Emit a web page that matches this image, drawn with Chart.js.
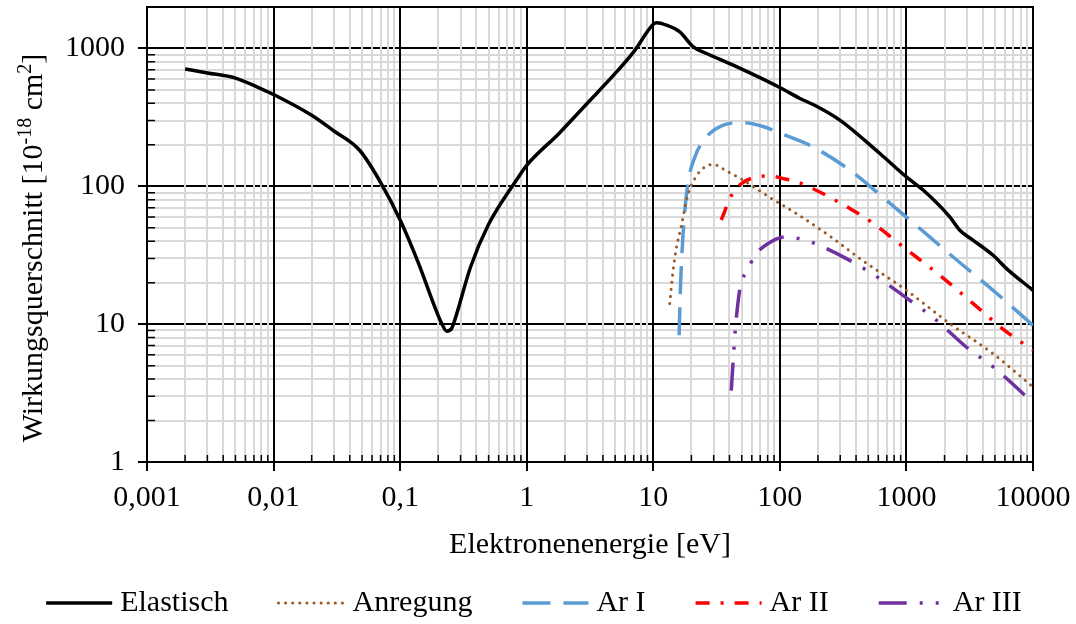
<!DOCTYPE html>
<html>
<head>
<meta charset="utf-8">
<script src="https://cdn.jsdelivr.net/npm/chart.js@4.4.1/dist/chart.umd.min.js"></script>
<style>
  html, body { margin: 0; padding: 0; background: #fff; }
</style>
</head>
<body>
<canvas id="canvas" width="1076" height="624"></canvas>
<script>
"use strict";

// electron energy [eV] and cross section [1e-18 cm^2]
const elasticE = [0.002, 0.003, 0.005, 0.008, 0.01, 0.02, 0.03, 0.048, 0.07, 0.1, 0.14, 0.188, 0.213, 0.233, 0.255, 0.27, 0.36, 0.5, 0.83, 1, 1.8, 3, 5, 7, 10, 10.6, 12.7, 16.2, 20.7, 26.4, 42.8, 100, 144, 195, 298, 617, 1000, 1355, 2200, 2640, 3370, 4840, 6180, 10000];
const elasticQ = [710, 665, 610, 510, 464, 328, 252, 182, 107, 57, 27.5, 13.3, 10.1, 8.9, 9.3, 10.7, 26, 53, 111, 142, 242, 399, 659, 945, 1500, 1540, 1480, 1320, 1027, 920, 757, 521, 434, 381, 302, 173, 117, 94, 60, 48, 40.6, 31.6, 25.3, 17.6];

const excitE = [13.5, 14.3, 15.2, 16.7, 18.6, 21.3, 25.5, 29.9, 37.9, 49.6, 63.1, 90.9, 135, 264, 429, 1000, 2200, 4840, 10000];
const excitQ = [14.1, 23.9, 35.4, 52, 84, 114, 138, 144, 129, 113, 98, 79, 63.5, 41.8, 29.9, 17.6, 10.1, 6.1, 3.5];

const ar1E = [16.0, 16.4, 17.2, 18.6, 21.3, 26.3, 35.4, 50.7, 72.5, 110, 183, 357, 697, 1064, 2340, 4840, 10000];
const ar1Q = [8.3, 18.6, 45.4, 99, 163, 228, 277, 290, 273, 235, 193, 131, 79, 57, 30.7, 17.6, 9.8];

const ar2E = [34.4, 41.8, 50.7, 63.1, 83, 110, 135, 183, 368, 546, 697, 980, 1840, 3370, 6180, 10000];
const ar2Q = [57, 87, 106, 116, 119, 113, 108, 96, 68, 54, 45.4, 35.4, 22.6, 14.1, 8.8, 6.5];

const ar3E = [41.3, 42.8, 44.4, 48.6, 55.3, 62.4, 80.8, 110, 160, 211, 336, 546, 697, 1064, 1680, 2985, 4840, 10000];
const ar3Q = [3.3, 5.5, 9.0, 18.6, 24.2, 30.7, 38.5, 43, 40.6, 36.9, 29.9, 23, 19.7, 14.9, 10.9, 6.8, 4.9, 2.7];

const seriesNames = ['Elastisch', 'Anregung', 'Ar I', 'Ar II', 'Ar III'];

const xTickValues = [0.001, 0.01, 0.1, 1, 10, 100, 1000, 10000];
const xTickLabels = ['0,001', '0,01', '0,1', '1', '10', '100', '1000', '10000'];
const yTickValues = [1, 10, 100, 1000];
const yTickLabels = ['1', '10', '100', '1000'];

const xTitle = 'Elektronenenergie [eV]';
// [text, superscript?]
const yTitleParts = [['Wirkungsquerschnitt [10', false], ['-18', true], [' cm', false], ['2', true], [']', false]];

const FONT = '"Liberation Serif", "Times New Roman", serif';

function pairs(xs, ys) {
  return xs.map(function(x, i) { return { x: x, y: ys[i] }; });
}

function isDecade(v) {
  const l = Math.log10(v);
  return Math.abs(l - Math.round(l)) < 1e-6;
}

function labelFor(values, labels) {
  return function(v) {
    for (let i = 0; i < values.length; i++) {
      if (Math.abs(v / values[i] - 1) < 1e-6) return labels[i];
    }
    return '';
  };
}

// drop the 1.5 x 10^n ticks chart.js adds, keep 1..9 per decade
function wholeSteps(scale) {
  scale.ticks = scale.ticks.filter(function(t) {
    const m = t.value / Math.pow(10, Math.floor(Math.log10(t.value) + 1e-9));
    return Math.abs(m - Math.round(m)) < 1e-6;
  });
}

function gridFor(z) {
  return {
    z: z,
    color: function(c) { return c.tick && isDecade(c.tick.value) ? '#000' : '#d9d9d9'; },
    lineWidth: 2,
    tickColor: function(c) { return c.tick && isDecade(c.tick.value) ? '#000' : 'rgba(0,0,0,0)'; },
    tickLength: 9,
    tickWidth: 2
  };
}

const framePlugin = {
  id: 'frame',
  beforeDatasetsDraw: function(chart) {
    const ctx = chart.ctx, a = chart.chartArea;
    ctx.save();
    ctx.strokeStyle = '#000';
    ctx.lineWidth = 2;
    ctx.strokeRect(a.left, a.top, a.right - a.left, a.bottom - a.top);
    // short minor ticks pointing into the plot
    ctx.lineWidth = 1.5;
    ctx.beginPath();
    chart.scales.x.ticks.forEach(function(t) {
      if (isDecade(t.value)) return;
      const px = chart.scales.x.getPixelForValue(t.value);
      ctx.moveTo(px, a.bottom);
      ctx.lineTo(px, a.bottom - 7);
    });
    chart.scales.y.ticks.forEach(function(t) {
      if (isDecade(t.value)) return;
      const py = chart.scales.y.getPixelForValue(t.value);
      ctx.moveTo(a.left, py);
      ctx.lineTo(a.left + 8, py);
    });
    ctx.stroke();
    ctx.restore();
  },
  afterDraw: function(chart) {
    const ctx = chart.ctx;
    ctx.save();
    ctx.fillStyle = '#000';

    // y axis title with superscripts
    const big = '30px ' + FONT, small = '20px ' + FONT;
    let total = 0;
    yTitleParts.forEach(function(p) {
      ctx.font = p[1] ? small : big;
      total += ctx.measureText(p[0]).width;
    });
    ctx.translate(32, 248);
    ctx.rotate(-Math.PI / 2);
    ctx.textBaseline = 'alphabetic';
    let x = -total / 2;
    yTitleParts.forEach(function(p) {
      ctx.font = p[1] ? small : big;
      ctx.fillText(p[0], x, p[1] ? -1 : 10);
      x += ctx.measureText(p[0]).width;
    });
    ctx.setTransform(1, 0, 0, 1, 0, 0);

    // legend below the axis title
    const lineLen = 66, gapText = 8, gapItem = 50, ly = 603;
    ctx.font = big;
    const ds = chart.data.datasets;
    let width = 0;
    ds.forEach(function(d) { width += lineLen + gapText + ctx.measureText(d.label).width; });
    width += gapItem * (ds.length - 1);
    let lx = chart.width / 2 - 4 - width / 2;
    ds.forEach(function(d) {
      ctx.save();
      ctx.strokeStyle = d.borderColor;
      ctx.lineWidth = d.borderWidth;
      ctx.lineCap = d.borderCapStyle || 'butt';
      ctx.setLineDash(d.borderDash || []);
      ctx.beginPath();
      ctx.moveTo(lx, ly);
      ctx.lineTo(lx + lineLen, ly);
      ctx.stroke();
      ctx.restore();
      ctx.textBaseline = 'middle';
      ctx.fillText(d.label, lx + lineLen + gapText, ly);
      lx += lineLen + gapText + ctx.measureText(d.label).width + gapItem;
    });
    ctx.restore();
  }
};

const ctx = document.getElementById('canvas');

new Chart(ctx, {
  type: 'line',
  data: {
    datasets: [
      {
        label: seriesNames[0],
        data: pairs(elasticE, elasticQ),
        borderColor: '#000000',
        borderWidth: 3.5,
        borderDash: []
      },
      {
        label: seriesNames[1],
        data: pairs(excitE, excitQ),
        borderColor: '#9C5A26',
        borderWidth: 3,
        borderDash: [0.1, 7],
        borderCapStyle: 'round'
      },
      {
        label: seriesNames[2],
        data: pairs(ar1E, ar1Q),
        borderColor: '#5B9BD5',
        borderWidth: 3.5,
        borderDash: [28, 13]
      },
      {
        label: seriesNames[3],
        data: pairs(ar2E, ar2Q),
        borderColor: '#FF0000',
        borderWidth: 3.5,
        borderDash: [14, 11, 3, 11]
      },
      {
        label: seriesNames[4],
        data: pairs(ar3E, ar3Q),
        borderColor: '#7030A0',
        borderWidth: 3.5,
        borderDash: [28, 13, 3, 13, 3, 13]
      }
    ]
  },
  options: {
    responsive: false,
    animation: false,
    devicePixelRatio: 1,
    cubicInterpolationMode: 'monotone',
    pointRadius: 0,
    pointHoverRadius: 0,
    layout: { padding: { top: 7, right: 43, bottom: 60, left: 0 } },
    plugins: {
      legend: { display: false },
      tooltip: { enabled: false }
    },
    scales: {
      x: {
        type: 'logarithmic',
        position: 'bottom',
        min: 0.001,
        max: 10000,
        afterBuildTicks: wholeSteps,
        afterFit: function(scale) {
          scale.height = 102;
          scale.paddingLeft = 0;
          scale.paddingRight = 0;
        },
        grid: gridFor(-1),
        border: { color: '#000', width: 2 },
        ticks: {
          autoSkip: false,
          maxRotation: 0,
          minRotation: 0,
          padding: 9,
          color: '#000',
          font: { family: FONT, size: 30 },
          callback: labelFor(xTickValues, xTickLabels)
        },
        title: {
          display: true,
          text: xTitle,
          color: '#000',
          font: { family: FONT, size: 30 },
          padding: { top: 0, bottom: 1 }
        }
      },
      y: {
        type: 'logarithmic',
        position: 'left',
        min: 1,
        max: 2000,
        afterBuildTicks: wholeSteps,
        afterFit: function(scale) {
          scale.width = 147;
          scale.paddingTop = 0;
          scale.paddingBottom = 0;
        },
        grid: gridFor(-2),
        border: { color: '#000', width: 2 },
        ticks: {
          autoSkip: false,
          padding: 13,
          color: '#000',
          font: { family: FONT, size: 30 },
          callback: labelFor(yTickValues, yTickLabels)
        }
      }
    }
  },
  plugins: [framePlugin]
});
</script>
</body>
</html>
